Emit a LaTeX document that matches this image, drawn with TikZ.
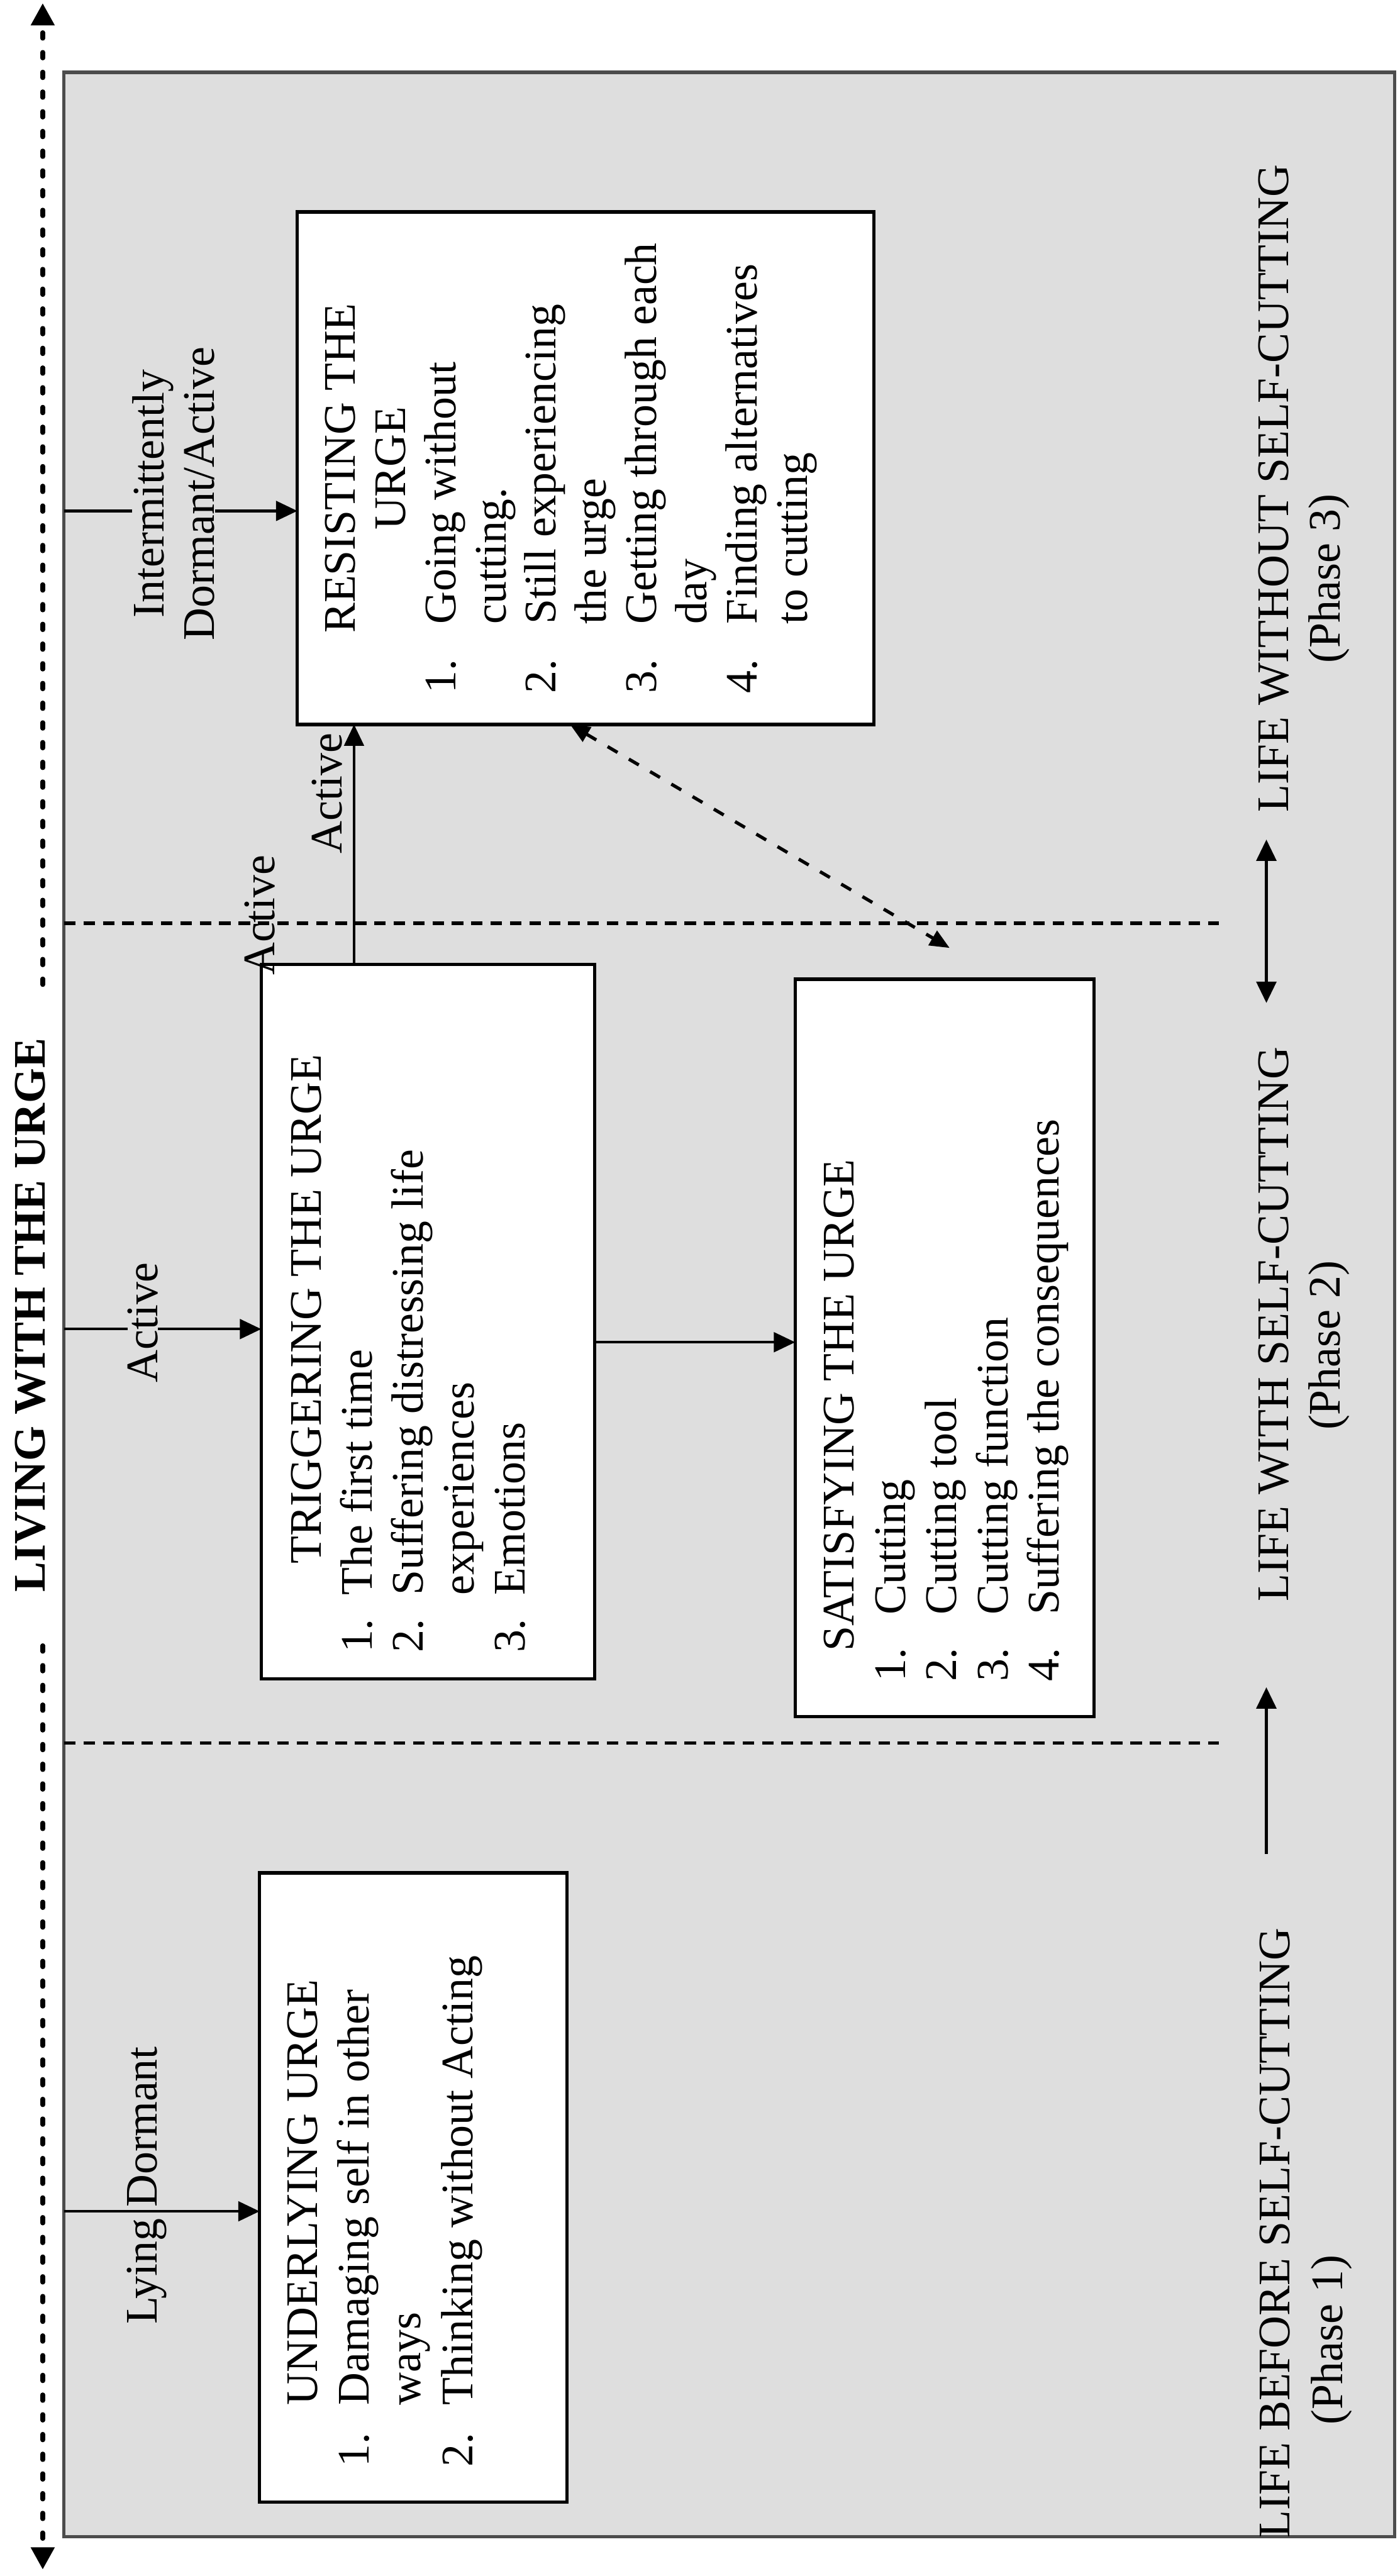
\documentclass[tikz,border=0pt]{standalone}
\usepackage{fontspec}
\setmainfont{Liberation Serif}
\usetikzlibrary{arrows.meta}
\definecolor{bgc}{gray}{0.87}
\newcommand\fs{\fontsize{27.5}{31}\selectfont}
\newcommand\FirstC[2]{\noindent\rule{0pt}{#1}\makebox[\linewidth][c]{#2}}
\newcommand\FirstL[3]{\noindent\rule{0pt}{#1}\hspace*{#2}#3}
\newcommand\LineC[1]{\par\noindent\makebox[\linewidth][c]{#1}}
\newcommand\Item[4]{\par\noindent\hspace*{#1}\makebox[#2][l]{#3}#4}
\newcommand\BoxText[4]{\begin{minipage}[c][#2][t]{#1}\fs\setlength{\baselineskip}{#3}\setlength{\parskip}{0pt}\setlength{\parindent}{0pt}#4\end{minipage}}
\begin{document}
\begin{tikzpicture}[x=1pt,y=-1pt,
  box/.style={draw=black,line width=2pt,fill=white,rotate=90,inner sep=0pt,outer sep=0pt},
  lbl/.style={rotate=90,inner sep=0pt,font=\fs},
  arr/.style={line width=1.6pt,-{Triangle[length=13pt,width=12pt]}},
  darr/.style={line width=2pt,dash pattern=on 7pt off 8pt,{Triangle[length=12pt,width=10pt]}-{Triangle[length=12pt,width=10pt]}},
  living/.style={line width=2.8pt,line cap=round,dash pattern=on 3.5pt off 8.5pt,-{Triangle[length=13.5pt,width=14pt]}},
  sepline/.style={line width=2.2pt,dash pattern=on 7pt off 4.8pt},
  parr/.style={line width=2pt}
]
\useasboundingbox (0,0) rectangle (852,1568);
\node[draw=black!70,line width=2pt,fill=bgc,anchor=north west,minimum width=810pt,minimum height=1500pt,inner sep=0pt,outer sep=0pt] (bg) at (39,44) {};
% coordinates
\coordinate (yI) at (0,311);
\coordinate (yA) at (0,809);
\coordinate (yL) at (0,1346);
\coordinate (yT) at (0,817);
\coordinate (xT) at (215.5,0);
\coordinate (xD) at (347,0);
\coordinate (dE) at (578,577);
\coordinate (xL) at (26,0);
\coordinate (xP) at (770.8,0);
\coordinate (lTop) at (26,2);
\coordinate (lBot) at (26,1564);
\coordinate (s1) at (742,562);
\coordinate (s2) at (742,1061);
% phase separators
\draw[sepline] (bg.west |- s1) -- (s1);
\draw[sepline] (bg.west |- s2) -- (s2);
% boxes
\node[box] (res) at (356.5,285) {\BoxText{312pt}{351pt}{30.6pt}{%
  \FirstC{35pt}{RESISTING THE}\LineC{URGE}%
  \Item{19pt}{42pt}{1.}{Going without}\Item{19pt}{42pt}{}{cutting.}%
  \Item{19pt}{42pt}{2.}{Still experiencing}\Item{19pt}{42pt}{}{the urge}%
  \Item{19pt}{42pt}{3.}{Getting through each}\Item{19pt}{42pt}{}{day}%
  \Item{19pt}{42pt}{4.}{Finding alternatives}\Item{19pt}{42pt}{}{to cutting}}};
\node[box] (trig) at (260.5,804.5) {\BoxText{435pt}{203pt}{31pt}{%
  \FirstL{36.5pt}{70pt}{TRIGGERING THE URGE}%
  \Item{16pt}{35pt}{1.}{The first time}%
  \Item{16pt}{35pt}{2.}{Suffering distressing life}%
  \Item{16pt}{35pt}{}{experiences}%
  \Item{16pt}{35pt}{3.}{Emotions}}};
\node[box] (sat) at (575,820.5) {\BoxText{449pt}{182pt}{31.2pt}{%
  \FirstL{35.8pt}{40pt}{SATISFYING THE URGE}%
  \Item{21.4pt}{40.6pt}{1.}{Cutting}%
  \Item{21.4pt}{40.6pt}{2.}{Cutting tool}%
  \Item{21.4pt}{40.6pt}{3.}{Cutting function}%
  \Item{21.4pt}{40.6pt}{4.}{Suffering the consequences}}};
\node[box] (und) at (251.5,1331.5) {\BoxText{383pt}{187pt}{31.5pt}{%
  \FirstL{35pt}{59pt}{UNDERLYING URGE}%
  \Item{21.6pt}{37.5pt}{1.}{Damaging self in other}%
  \Item{21.6pt}{37.5pt}{}{ways}%
  \Item{21.6pt}{37.5pt}{2.}{Thinking without Acting}}};
% title
\node[rotate=90,anchor=base,inner xsep=32.5pt,inner ysep=0pt,font=\fs\bfseries] (title) at (27.3,800.5) {LIVING WITH THE URGE};
\draw[living] (title.east -| xL) -- (lTop);
\draw[living] (title.west -| xL) -- (lBot);
% phase labels
\node[lbl,anchor=base west] (p3) at (784,494.6) {LIFE WITHOUT SELF-CUTTING};
\node[lbl,anchor=base west] (p3b) at (815.5,404) {(Phase 3)};
\node[lbl,anchor=base west] (p2) at (784,975) {LIFE WITH SELF-CUTTING};
\node[lbl,anchor=base west] (p2b) at (815.5,870.7) {(Phase 2)};
\node[lbl,anchor=base west] (p1) at (785,1545) {LIFE BEFORE SELF-CUTTING};
\node[lbl,anchor=base west] (p1b) at (817,1476) {(Phase 1)};
\draw[parr,{Triangle[length=13pt,width=12pt]}-{Triangle[length=13pt,width=12pt]},shorten <=16.4pt,shorten >=26.5pt] (p3.west -| xP) -- (p2.east -| xP);
\draw[parr,-{Triangle[length=13pt,width=12pt]},shorten <=45pt,shorten >=52pt] (p1.east -| xP) -- (p2.west -| xP);
% connectors
\draw[arr] (bg.west |- yI) -- (res.north |- yI);
\draw[arr] (bg.west |- yA) -- (trig.north |- yA);
\draw[arr] (bg.west |- yL) -- (und.north |- yL);
\draw[arr] (trig.east -| xT) -- (res.west -| xT);
\draw[arr] (trig.south |- yT) -- (sat.north |- yT);
\draw[darr] (res.west -| xD) -- (dE);
% connector labels
\node[lbl,anchor=base,fill=bgc] (lA) at (96,805) {Active};
\node[lbl,anchor=base west] (lL) at (95.5,1414.7) {Lying Dormant};
\node[lbl,anchor=south,align=center,fill=bgc] (lI) at (131,300.5) {Intermittently\\Dormant/Active};
\node[lbl,anchor=base] (lT1) at (208,483) {Active};
\node[lbl,anchor=base] (lT2) at (167,557) {Active};
\end{tikzpicture}
\end{document}
